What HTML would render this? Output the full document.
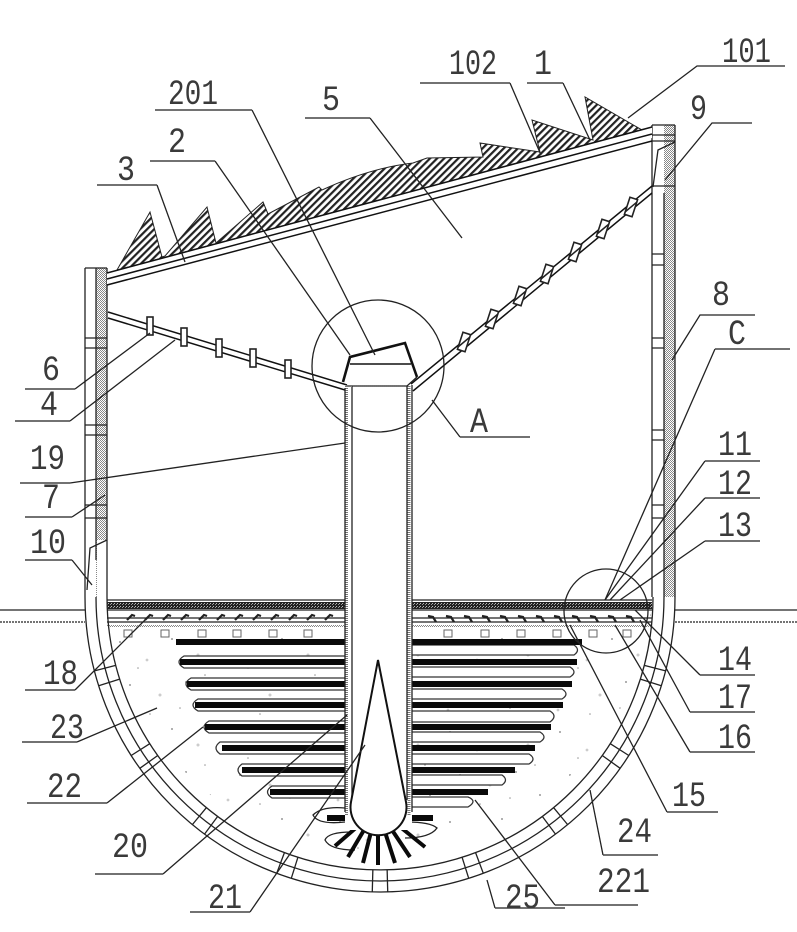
<!DOCTYPE html>
<html><head><meta charset="utf-8"><style>
html,body{margin:0;padding:0;background:#fff}
svg{display:block}
text{font-family:"Liberation Mono",monospace;font-size:35px;fill:#3a3a3a}
.l{stroke:#222;stroke-width:1.3;fill:none}
.u{stroke:#444;stroke-width:1.6;fill:none}
.t{stroke:#111;stroke-width:1.5;fill:none}
.f{stroke:#333;stroke-width:1.3;fill:#fff}
</style></head><body>
<svg width="797" height="932" viewBox="0 0 797 932" xmlns="http://www.w3.org/2000/svg">
<defs>
<pattern id="h" width="5" height="5" patternUnits="userSpaceOnUse" patternTransform="rotate(-45)"><rect width="5" height="5" fill="#fff"/><rect width="5" height="2.2" fill="#222"/></pattern>
<pattern id="s" width="2" height="2" patternUnits="userSpaceOnUse"><rect width="2" height="2" fill="#fff"/><rect width="1" height="1" fill="#888"/><rect x="1" y="1" width="1" height="1" fill="#888"/></pattern>
<pattern id="d" width="3" height="3" patternUnits="userSpaceOnUse"><rect width="3" height="3" fill="#222"/><rect width="1" height="1" fill="#bbb"/><rect x="2" y="1" width="1" height="1" fill="#999"/></pattern>
<pattern id="n" width="110" height="90" patternUnits="userSpaceOnUse"><rect width="110" height="90" fill="#fff"/>
<g fill="#999"><circle cx="10" cy="12" r="1"/><circle cx="37" cy="30" r="1.4" fill="#ccc"/><circle cx="62" cy="9" r="1"/><circle cx="88" cy="25" r="1.5" fill="#ccc"/><circle cx="20" cy="55" r="1"/><circle cx="50" cy="65" r="1.5" fill="#ccc"/><circle cx="76" cy="52" r="1"/><circle cx="100" cy="75" r="1"/><circle cx="8" cy="80" r="1.4" fill="#ccc"/><circle cx="40" cy="84" r=".8"/><circle cx="70" cy="78" r=".8"/><circle cx="28" cy="38" r=".8"/><circle cx="95" cy="45" r=".8"/></g></pattern>
</defs>
<rect width="797" height="932" fill="#fff"/>

<!-- ground -->
<path class="l" d="M0 610H85M675 610H797"/>
<path class="l" stroke-dasharray="2 1" d="M0 622H85M675 622H797"/>

<!-- soil -->
<path d="M107 627H652V597A273 273 0 0 1 107 597Z" fill="url(#n)"/>

<!-- fins right outlines -->
<g class="f" fill="#fff">
<path class="f" d="M410 645H574Q581 650 574 655L410 655Z"/>
<path class="f" d="M410 667H570Q578 672 570 677L410 677Z"/>
<path class="f" d="M410 689H562Q570 694 562 699L410 699Z"/>
<path class="f" d="M410 711H550Q558 716 550 722L410 722Z"/>
<path class="f" d="M410 732H540Q548 737 540 742L410 742Z"/>
<path class="f" d="M410 754H529Q537 759 529 764L410 764Z"/>
<path class="f" d="M410 775H502Q509 780 502 785L410 785Z"/>
<path class="f" d="M410 797H468Q478 801 468 807L410 807Z"/>
</g>
<!-- fins left outlines -->
<path class="f" d="M346 656H184Q174 662 184 668H346Z"/>
<path class="f" d="M346 678H191Q181 684 191 690H346Z"/>
<path class="f" d="M346 699H198Q188 705 198 711H346Z"/>
<path class="f" d="M346 721H209Q199 727 209 733H346Z"/>
<path class="f" d="M346 742H220Q212 748 220 754H346Z"/>
<path class="f" d="M346 764H242Q234 770 242 776H346Z"/>
<path class="f" d="M346 786H272Q263 792 272 798H346Z"/>
<!-- bars -->
<g fill="#0a0a0a">
<rect x="176" y="639" width="171" height="6"/>
<rect x="180" y="659" width="167" height="6"/>
<rect x="187" y="681" width="160" height="6"/>
<rect x="195" y="702" width="152" height="6"/>
<rect x="205" y="724" width="142" height="6"/>
<rect x="222" y="745" width="125" height="6"/>
<rect x="242" y="767" width="105" height="6"/>
<rect x="270" y="789" width="77" height="6"/>
<rect x="409" y="639" width="173" height="6"/>
<rect x="409" y="659" width="168" height="6"/>
<rect x="409" y="681" width="163" height="6"/>
<rect x="409" y="702" width="154" height="6"/>
<rect x="409" y="724" width="142" height="6"/>
<rect x="409" y="745" width="126" height="6"/>
<rect x="409" y="767" width="106" height="6"/>
<rect x="409" y="789" width="79" height="6"/>
<rect x="327" y="815" width="106" height="6"/>
</g>
<!-- bottom blobs -->
<path class="l" d="M345 808Q322 806 313 815Q318 825 345 822M407 822Q430 822 437 828Q430 838 405 838M352 832Q328 832 325 840Q330 850 355 850"/>
<!-- spokes -->
<g stroke="#0a0a0a" stroke-width="4">
<line x1="358" y1="826" x2="335" y2="846"/><line x1="364" y1="830" x2="348" y2="857"/><line x1="371" y1="832" x2="363" y2="863"/><line x1="378" y1="833" x2="378" y2="865"/><line x1="385" y1="832" x2="395" y2="863"/><line x1="392" y1="830" x2="410" y2="857"/><line x1="399" y1="826" x2="425" y2="847"/>
</g>

<!-- floor layers -->
<g>
<rect x="107" y="602" width="238" height="7" fill="url(#d)"/><rect x="412" y="602" width="240" height="7" fill="url(#d)"/>
<path class="l" d="M107 600H345M107 610H345M107 618H345M107 622H345M412 600H652M412 610H652M412 618H652M412 622H652"/>
<rect x="107" y="625" width="238" height="2" fill="url(#s)"/><rect x="412" y="625" width="240" height="2" fill="url(#s)"/>
</g>
<path stroke="#222" stroke-width="2.2" fill="none" d="M127 620l5-5 3 1M145 620l5-5 3 1M163 620l5-5 3 1M181 620l5-5 3 1M199 620l5-5 3 1M217 620l5-5 3 1M235 620l5-5 3 1M253 620l5-5 3 1M271 620l5-5 3 1M289 620l5-5 3 1M307 620l5-5 3 1M325 620l5-5 3 1M428 616l5 1 3 5M446 616l5 1 3 5M464 616l5 1 3 5M482 616l5 1 3 5M500 616l5 1 3 5M518 616l5 1 3 5M536 616l5 1 3 5M554 616l5 1 3 5M572 616l5 1 3 5M590 616l5 1 3 5M608 616l5 1 3 5M626 616l5 1 3 5"/>
<g fill="none" stroke="#666" stroke-width="1">
<rect x="124" y="630" width="8" height="7"/><rect x="161" y="630" width="8" height="7"/><rect x="198" y="630" width="8" height="7"/><rect x="233" y="630" width="8" height="7"/><rect x="269" y="630" width="8" height="7"/><rect x="304" y="630" width="8" height="7"/>
<rect x="444" y="630" width="8" height="7"/><rect x="481" y="630" width="8" height="7"/><rect x="517" y="630" width="8" height="7"/><rect x="553" y="630" width="8" height="7"/><rect x="589" y="630" width="8" height="7"/><rect x="623" y="630" width="8" height="7"/>
</g>

<!-- walls -->
<rect x="96" y="268" width="11" height="329" fill="url(#s)"/>
<rect x="664" y="125" width="11" height="472" fill="url(#s)"/>
<rect x="97" y="540" width="10" height="57" fill="#fff"/>
<rect x="653" y="126" width="11" height="471" fill="#fff"/>
<path class="l" d="M85 268H107M85 268V597M96 268V540M107 268V597M652 125H675M652 125V597M664 193V597M675 125V597"/>
<path class="l" d="M652 135H675M652 141H675M652 186H675M653 187L658 150L675 142"/>
<path class="l" d="M107 540L90 548L87 590M96 540V560"/>
<path class="l" d="M96 338H107M96 348H107M96 425H107M96 435H107M96 505H107M96 518H107M85 338H96M85 348H96M85 425H96M85 435H96M85 505H96M85 518H96M652 254H664M652 265H664M652 338H664M652 348H664M652 430H664M652 440H664M652 505H664M652 518H664"/>
<!-- arcs -->
<path class="l" d="M85 597A295 295 0 0 0 675 597M96 597A284 284 0 0 0 664 597M107 597A273 273 0 0 0 653 597"/>
<g class="l">
<line x1="653" y1="597" x2="675" y2="597" transform="rotate(14.5 380 597)"/><line x1="653" y1="597" x2="675" y2="597" transform="rotate(17.5 380 597)"/>
<line x1="653" y1="597" x2="675" y2="597" transform="rotate(32.5 380 597)"/><line x1="653" y1="597" x2="675" y2="597" transform="rotate(35.5 380 597)"/>
<line x1="653" y1="597" x2="675" y2="597" transform="rotate(50.5 380 597)"/><line x1="653" y1="597" x2="675" y2="597" transform="rotate(53.5 380 597)"/>
<line x1="653" y1="597" x2="675" y2="597" transform="rotate(69.5 380 597)"/><line x1="653" y1="597" x2="675" y2="597" transform="rotate(72.5 380 597)"/>
<line x1="653" y1="597" x2="675" y2="597" transform="rotate(88.5 380 597)"/><line x1="653" y1="597" x2="675" y2="597" transform="rotate(91.5 380 597)"/>
<line x1="653" y1="597" x2="675" y2="597" transform="rotate(107.5 380 597)"/><line x1="653" y1="597" x2="675" y2="597" transform="rotate(110.5 380 597)"/>
<line x1="653" y1="597" x2="675" y2="597" transform="rotate(126.5 380 597)"/><line x1="653" y1="597" x2="675" y2="597" transform="rotate(129.5 380 597)"/>
<line x1="653" y1="597" x2="675" y2="597" transform="rotate(144.5 380 597)"/><line x1="653" y1="597" x2="675" y2="597" transform="rotate(147.5 380 597)"/>
<line x1="653" y1="597" x2="675" y2="597" transform="rotate(162.5 380 597)"/><line x1="653" y1="597" x2="675" y2="597" transform="rotate(165.5 380 597)"/>
</g>

<!-- solar hatch roof -->
<path d="M117 270L150 212L162 257L165 256L207 207L216 243L263 202L268 214L319 187L322 190Q370 168 413 163L427 158L483 157L480 143L540 152L532 120L593 140L585 97L642 130Z" fill="url(#h)" stroke="#222" stroke-width="1"/>
<path d="M107 273L652 127V138L107 285Z" fill="#fff"/>
<path class="t" d="M107 273L652 127M107 279L652 134M107 285L652 141"/>

<!-- rafters -->
<path class="t" d="M108 312L347 385M108 318L345 390M411 384L652 186M413 391L652 193"/>
<g fill="#fff" stroke="#222" stroke-width="1.6">
<rect x="147" y="317" width="6" height="18"/><rect x="181" y="328" width="6" height="18"/><rect x="216" y="339" width="6" height="18"/><rect x="250" y="349" width="6" height="18"/><rect x="285" y="360" width="6" height="18"/>
<rect x="460" y="333" width="8" height="18" transform="rotate(18 464 342)"/><rect x="488" y="310" width="8" height="18" transform="rotate(18 492 319)"/><rect x="516" y="287" width="8" height="18" transform="rotate(18 520 296)"/><rect x="543" y="265" width="8" height="18" transform="rotate(18 547 274)"/><rect x="571" y="243" width="8" height="18" transform="rotate(18 575 252)"/><rect x="599" y="220" width="8" height="18" transform="rotate(18 603 229)"/><rect x="627" y="198" width="8" height="18" transform="rotate(18 631 207)"/>
</g>
<path stroke="#222" stroke-width="1.5" fill="none" d="M458 347L470 337M486 324L498 314M514 301L526 291M541 279L553 269M569 257L581 247M597 234L609 224M625 212L637 202"/>

<!-- column -->
<path d="M345 386H412V830H345Z" fill="#fff"/>
<path d="M345 386V815" stroke="#777" stroke-width="3" stroke-dasharray="1 1" fill="none" transform="translate(1.5 0)"/>
<path d="M409 386V815" stroke="#777" stroke-width="3" stroke-dasharray="1 1" fill="none"/>
<path class="l" d="M345 388V812M352 386V800M407 386V800M412 385V812M347 386H407L417 377"/>
<path d="M347 386H407" stroke="#777" stroke-width="2" stroke-dasharray="1 1"/>
<!-- cone -->
<path d="M378 660L351 802A28 28 0 1 0 406 802Z" fill="#fff" stroke="#111" stroke-width="2"/>
<!-- cap -->
<path d="M343 382L350 357L405 343L417 377" fill="#fff" stroke="#111" stroke-width="2.6"/>
<path class="t" d="M350 364H411"/>

<!-- circles -->
<circle cx="378" cy="366" r="66" class="l"/>
<circle cx="606" cy="611" r="42" class="l"/>

<!-- leaders -->
<g class="l">
<path d="M785 66H697L628 118"/>
<path d="M510 83L541 155"/>
<path d="M563 83L590 140"/>
<path d="M752 123H712L665 180"/>
<path d="M252 110L375 355"/>
<path d="M370 118L462 238"/>
<path d="M215 161L350 355"/>
<path d="M157 185L185 262"/>
<path d="M755 315H700L672 360"/>
<path d="M715 349L605 600"/>
<path d="M75 389L150 333"/>
<path d="M70 421L175 340"/>
<path d="M460 437L432 400"/>
<path d="M70 483L345 443"/>
<path d="M72 517L105 495"/>
<path d="M72 560L92 585"/>
<path d="M705 461L605 600"/>
<path d="M705 498L610 600"/>
<path d="M705 541L620 600"/>
<path d="M700 675L635 610"/>
<path d="M690 712L640 620"/>
<path d="M690 752L615 625"/>
<path d="M667 812L570 625"/>
<path d="M75 690L150 615"/>
<path d="M77 742L157 708"/>
<path d="M107 803L203 727"/>
<path d="M163 874L347 715"/>
<path d="M250 912L365 745"/>
<path d="M495 908L487 880"/>
<path d="M555 905L475 800"/>
<path d="M603 855L590 790"/>
</g>
<!-- underlines -->
<path class="u" d="M420 83H510M527 83H563M155 110H252M305 118H370M150 161H215M97 185H157M715 349H790M25 389H75M15 421H70M460 437H530M20 483H70M25 517H72M25 560H72M705 461H760M705 498H760M705 541H760M700 675H755M690 712H755M690 752H755M667 812H718M25 690H75M22 742H77M27 803H107M95 874H163M190 912H250M495 908H565M555 905H638M603 855H658"/>

<!-- labels -->
<g>
<text x="722" y="62" textLength="49" lengthAdjust="spacingAndGlyphs">101</text>
<text x="449" y="74" textLength="48" lengthAdjust="spacingAndGlyphs">102</text>
<text x="534" y="74" textLength="18" lengthAdjust="spacingAndGlyphs">1</text>
<text x="690" y="119" textLength="17" lengthAdjust="spacingAndGlyphs">9</text>
<text x="168" y="104" textLength="50" lengthAdjust="spacingAndGlyphs">201</text>
<text x="322" y="110" textLength="18" lengthAdjust="spacingAndGlyphs">5</text>
<text x="168" y="152" textLength="18" lengthAdjust="spacingAndGlyphs">2</text>
<text x="117" y="180" textLength="18" lengthAdjust="spacingAndGlyphs">3</text>
<text x="712" y="305" textLength="18" lengthAdjust="spacingAndGlyphs">8</text>
<text x="728" y="344" textLength="18" lengthAdjust="spacingAndGlyphs">C</text>
<text x="42" y="380" textLength="18" lengthAdjust="spacingAndGlyphs">6</text>
<text x="40" y="415" textLength="18" lengthAdjust="spacingAndGlyphs">4</text>
<text x="470" y="432" textLength="18" lengthAdjust="spacingAndGlyphs">A</text>
<text x="30" y="469" textLength="35" lengthAdjust="spacingAndGlyphs">19</text>
<text x="42" y="508" textLength="18" lengthAdjust="spacingAndGlyphs">7</text>
<text x="30" y="553" textLength="36" lengthAdjust="spacingAndGlyphs">10</text>
<text x="718" y="455" textLength="34" lengthAdjust="spacingAndGlyphs">11</text>
<text x="718" y="494" textLength="34" lengthAdjust="spacingAndGlyphs">12</text>
<text x="718" y="536" textLength="34" lengthAdjust="spacingAndGlyphs">13</text>
<text x="718" y="670" textLength="34" lengthAdjust="spacingAndGlyphs">14</text>
<text x="718" y="708" textLength="34" lengthAdjust="spacingAndGlyphs">17</text>
<text x="718" y="748" textLength="34" lengthAdjust="spacingAndGlyphs">16</text>
<text x="672" y="806" textLength="34" lengthAdjust="spacingAndGlyphs">15</text>
<text x="43" y="684" textLength="35" lengthAdjust="spacingAndGlyphs">18</text>
<text x="50" y="738" textLength="34" lengthAdjust="spacingAndGlyphs">23</text>
<text x="47" y="797" textLength="35" lengthAdjust="spacingAndGlyphs">22</text>
<text x="112" y="857" textLength="36" lengthAdjust="spacingAndGlyphs">20</text>
<text x="208" y="908" textLength="34" lengthAdjust="spacingAndGlyphs">21</text>
<text x="505" y="908" textLength="35" lengthAdjust="spacingAndGlyphs">25</text>
<text x="597" y="892" textLength="53" lengthAdjust="spacingAndGlyphs">221</text>
<text x="617" y="842" textLength="35" lengthAdjust="spacingAndGlyphs">24</text>
</g>
</svg>
</body></html>
